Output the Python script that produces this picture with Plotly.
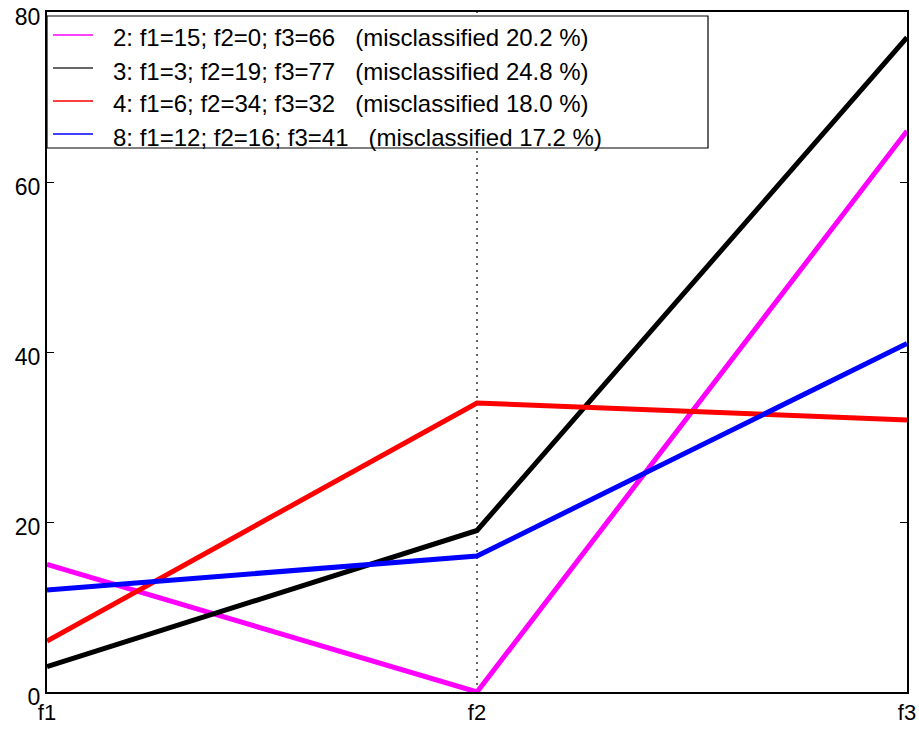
import plotly.graph_objects as go

categories = ["f1", "f2", "f3"]
s2 = [15, 0, 66]
s3 = [3, 19, 77]
s4 = [6, 34, 32]
s8 = [12, 16, 41]
names = [
    "2: f1=15; f2=0; f3=66\u00a0\u00a0\u00a0(misclassified 20.2 %)",
    "3: f1=3; f2=19; f3=77\u00a0\u00a0\u00a0(misclassified 24.8 %)",
    "4: f1=6; f2=34; f3=32\u00a0\u00a0\u00a0(misclassified 18.0 %)",
    "8: f1=12; f2=16; f3=41\u00a0\u00a0\u00a0(misclassified 17.2 %)",
]
series = [s2, s3, s4, s8]
line_colors = ["#ff00ff", "#000000", "#ff0000", "#0000ff"]
legend_colors = ["#ff00ff", "#333333", "#ff0000", "#0000ff"]
yticks = [0, 20, 40, 60, 80]

W, H = 919, 729
ML, MR, MT, MB = 47, 12, 12, 37
PW, PH = W - ML - MR, H - MT - MB


def px(x):
    return (x - ML) / PW


def py(y):
    return (H - MB - y) / PH


xs = list(range(len(categories)))
fig = go.Figure()
for vals, col in zip(series, line_colors):
    fig.add_trace(go.Scatter(x=xs, y=vals, mode="lines",
                             line=dict(color=col, width=5), showlegend=False,
                             hoverinfo="skip"))

fig.add_shape(type="line", x0=1, x1=1, y0=0, y1=80, xref="x", yref="y",
              line=dict(color="#333333", width=1.5, dash="2px,5px"), layer="below")

# legend box (manual)
fig.add_shape(type="rect", xref="paper", yref="paper",
              x0=px(47), x1=px(708), y0=py(148), y1=py(16),
              line=dict(color="black", width=1.2), fillcolor="white", layer="above")
row_y = [38, 71, 104, 137]
for nm, col, ry in zip(names, legend_colors, row_y):
    fig.add_shape(type="line", xref="paper", yref="paper",
                  x0=px(53), x1=px(93), y0=py(ry - 3), y1=py(ry - 3),
                  line=dict(color=col, width=1.3), layer="above")
    fig.add_annotation(xref="paper", yref="paper", x=px(111), y=py(ry),
                       xanchor="left", yanchor="middle", text=nm,
                       showarrow=False, font=dict(size=24, color="black"))

fig.update_layout(
    width=W, height=H,
    margin=dict(l=ML, r=MR, t=MT, b=MB),
    paper_bgcolor="white", plot_bgcolor="white",
    font=dict(family="Liberation Sans, Arial", color="black"),
    showlegend=False,
    xaxis=dict(range=[0, 2], tickvals=xs, ticktext=categories, automargin=False,
               showgrid=False, zeroline=False, showline=True, linecolor="black",
               linewidth=2, mirror=True, ticks="", tickfont=dict(size=22),
               ticklabelstandoff=0),
    yaxis=dict(range=[0, 80], tickvals=yticks, automargin=False,
               showgrid=False, zeroline=False,
               showline=True, linecolor="black", linewidth=2, mirror="ticks",
               ticks="inside", ticklen=7, tickcolor="black",
               tickfont=dict(size=23), ticklabelshift=5,
               ticklabeloverflow="allow"),
)
fig.write_html("out.html")
